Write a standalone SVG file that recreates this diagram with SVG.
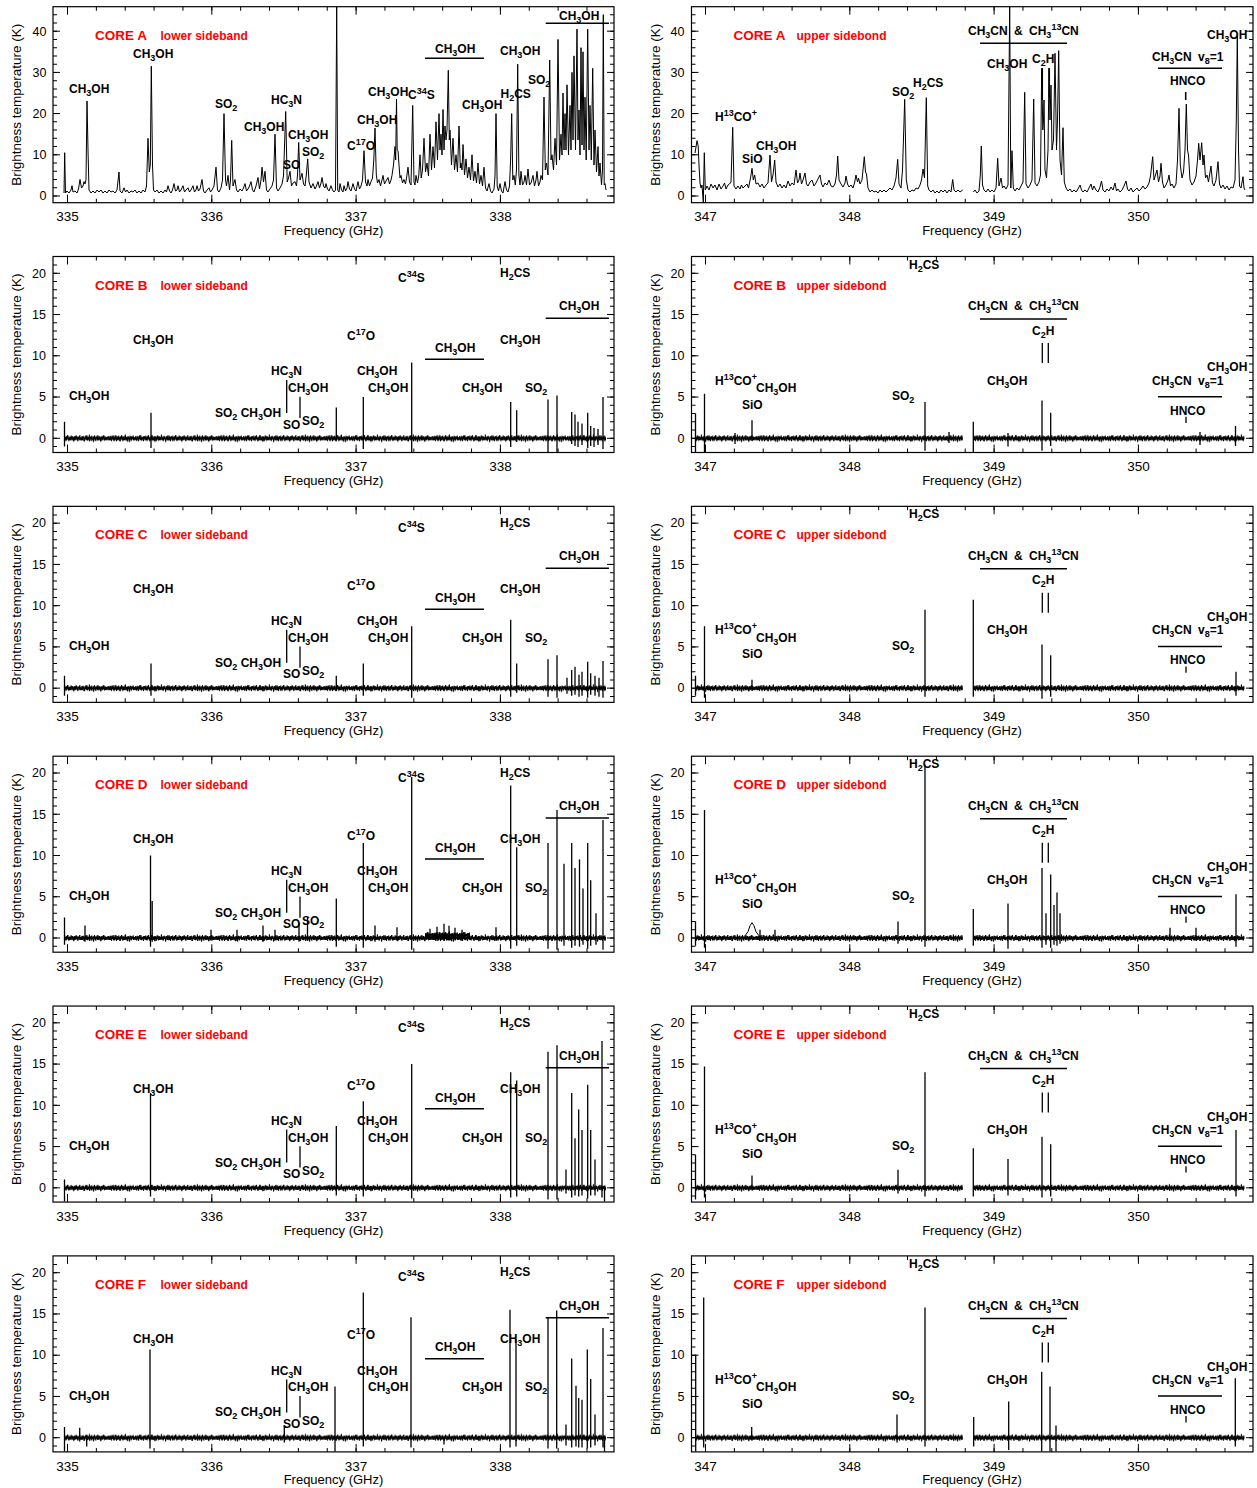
<svg xmlns="http://www.w3.org/2000/svg" width="1257" height="1488" viewBox="0 0 1257 1488">
<style>
text{font-family:"Liberation Sans",Arial,Helvetica,sans-serif;fill:#000}
.tk{font-size:12.5px;text-anchor:end}
.tx{font-size:13.5px;text-anchor:middle}
.ax{font-size:13px;text-anchor:middle}
.yl{font-size:13.5px;text-anchor:middle}
.lb{font-size:12px;font-weight:bold}
.b{font-size:9px}
.core{font-size:13.5px;font-weight:bold;fill:#ff0000}
.sb{font-size:12px;font-weight:bold;fill:#ff0000}
.fr{fill:none;stroke:#000;stroke-width:1.2}
.mn{stroke:#000;stroke-width:4;fill:none}
.mj{stroke:#000;stroke-width:1;fill:none}
.spec{fill:none;stroke:#000;stroke-width:1;stroke-linejoin:round}
.spk{fill:none;stroke:#000;stroke-width:1.3}
.mk{fill:none;stroke:#000;stroke-width:1.5}
.n1{fill:url(#nz)}
.n2{fill:url(#nz2)}
</style>
<defs>
<pattern id="nz" patternUnits="userSpaceOnUse" width="36" height="12">
<path d="M0,6 L0.6,4 L1.2,7.5 L1.8,5 L2.4,8 L3,4.5 L3.6,6.5 L4.2,3.5 L4.8,7 L5.4,5.5 L6,8.5 L6.6,5 L7.2,6 L7.8,3 L8.4,7.5 L9,6 L9.6,8 L10.2,4 L10.8,6.5 L11.4,5 L12,9 L12.6,5.5 L13.2,7 L13.8,3.5 L14.4,6 L15,4.5 L15.6,8 L16.2,5 L16.8,7 L17.4,2.5 L18,6.5 L18.6,5 L19.2,8.5 L19.8,4.5 L20.4,7 L21,5.5 L21.6,9.5 L22.2,6 L22.8,4 L23.4,7.5 L24,5 L24.6,6.5 L25.2,3.5 L25.8,8 L26.4,5.5 L27,7 L27.6,4 L28.2,6 L28.8,8.5 L29.4,5 L30,7.5 L30.6,4.5 L31.2,6.5 L31.8,3 L32.4,7 L33,5.5 L33.6,8 L34.2,5 L34.8,7 L35.4,4.5 L36,6" fill="none" stroke="#000" stroke-width="0.9"/>
</pattern>
<pattern id="nz2" patternUnits="userSpaceOnUse" width="27" height="12">
<path d="M0,6 L0.45,7.5 L0.9,4.5 L1.35,8 L1.8,5.5 L2.25,3.8 L2.7,7 L3.15,6 L3.6,8.8 L4.05,4.2 L4.5,6.8 L4.95,5 L5.4,7.8 L5.85,3.2 L6.3,6.2 L6.75,8.2 L7.2,4.8 L7.65,7.2 L8.1,5.2 L8.55,9 L9,4 L9.45,6.6 L9.9,5.4 L10.35,7.6 L10.8,3.6 L11.25,7 L11.7,5.8 L12.15,8.4 L12.6,4.4 L13.05,6.4 L13.5,3 L13.95,7.4 L14.4,5.6 L14.85,8.6 L15.3,4.6 L15.75,6.9 L16.2,5.1 L16.65,7.9 L17.1,3.4 L17.55,6.5 L18,8.1 L18.45,4.9 L18.9,7.3 L19.35,5.3 L19.8,9.2 L20.25,4.1 L20.7,6.7 L21.15,5.5 L21.6,7.7 L22.05,3.7 L22.5,7.1 L22.95,5.9 L23.4,8.3 L23.85,4.3 L24.3,6.3 L24.75,4.7 L25.2,7.5 L25.65,5.2 L26.1,8 L26.55,5 L27,6" fill="none" stroke="#000" stroke-width="0.9"/>
</pattern>
<g id="nzL"><rect class="n1" x="64" y="0" width="542" height="12"/><rect class="n2" x="64" y="0" width="542" height="12"/></g>
<g id="nzR"><rect class="n1" x="695" y="0" width="267.7" height="12"/><rect class="n2" x="695" y="0" width="267.7" height="12"/><rect class="n1" x="973.3" y="0" width="271" height="12"/><rect class="n2" x="973.3" y="0" width="271" height="12"/></g>
<g id="axLA">
<rect class="fr" x="53" y="6.7" width="561" height="196"/>
<line class="mn" x1="67" y1="200.7" x2="588" y2="200.7" stroke-dasharray="1 27.86"/>
<line class="mn" x1="67" y1="8.7" x2="588" y2="8.7" stroke-dasharray="1 27.86"/>
<line class="mn" x1="55" y1="196.5" x2="55" y2="14" stroke-dasharray="1 7.24"/>
<line class="mn" x1="612" y1="196.5" x2="612" y2="14" stroke-dasharray="1 7.24"/>
<path class="mj" d="M67.5,202.7v-8M211.8,202.7v-8M356.1,202.7v-8M500.4,202.7v-8M67.5,6.7v8M211.8,6.7v8M356.1,6.7v8M500.4,6.7v8M53,196h7M53,154.8h7M53,113.6h7M53,72.4h7M53,31.2h7M614,196h-7M614,154.8h-7M614,113.6h-7M614,72.4h-7M614,31.2h-7"/>
</g>
<g id="axRA">
<rect class="fr" x="691.5" y="6.7" width="561.5" height="196"/>
<line class="mn" x1="705" y1="200.7" x2="1226" y2="200.7" stroke-dasharray="1 27.86"/>
<line class="mn" x1="705" y1="8.7" x2="1226" y2="8.7" stroke-dasharray="1 27.86"/>
<line class="mn" x1="693.5" y1="196.5" x2="693.5" y2="14" stroke-dasharray="1 7.24"/>
<line class="mn" x1="1251" y1="196.5" x2="1251" y2="14" stroke-dasharray="1 7.24"/>
<path class="mj" d="M705.5,202.7v-8M849.8,202.7v-8M994.1,202.7v-8M1138.4,202.7v-8M705.5,6.7v8M849.8,6.7v8M994.1,6.7v8M1138.4,6.7v8M691.5,196h7M691.5,154.8h7M691.5,113.6h7M691.5,72.4h7M691.5,31.2h7M1253,196h-7M1253,154.8h-7M1253,113.6h-7M1253,72.4h-7M1253,31.2h-7"/>
</g>
<g id="axLB">
<rect class="fr" x="53" y="256.5" width="561" height="196"/>
<line class="mn" x1="67" y1="450.5" x2="588" y2="450.5" stroke-dasharray="1 27.86"/>
<line class="mn" x1="67" y1="258.5" x2="588" y2="258.5" stroke-dasharray="1 27.86"/>
<line class="mn" x1="55" y1="447.05" x2="55" y2="264.5" stroke-dasharray="1 7.25"/>
<line class="mn" x1="612" y1="447.05" x2="612" y2="264.5" stroke-dasharray="1 7.25"/>
<path class="mj" d="M67.5,452.5v-8M211.8,452.5v-8M356.1,452.5v-8M500.4,452.5v-8M67.5,256.5v8M211.8,256.5v8M356.1,256.5v8M500.4,256.5v8M53,438.3h7M53,397.05h7M53,355.8h7M53,314.55h7M53,273.3h7M614,438.3h-7M614,397.05h-7M614,355.8h-7M614,314.55h-7M614,273.3h-7"/>
</g>
<g id="axRB">
<rect class="fr" x="691.5" y="256.5" width="561.5" height="196"/>
<line class="mn" x1="705" y1="450.5" x2="1226" y2="450.5" stroke-dasharray="1 27.86"/>
<line class="mn" x1="705" y1="258.5" x2="1226" y2="258.5" stroke-dasharray="1 27.86"/>
<line class="mn" x1="693.5" y1="447.05" x2="693.5" y2="264.5" stroke-dasharray="1 7.25"/>
<line class="mn" x1="1251" y1="447.05" x2="1251" y2="264.5" stroke-dasharray="1 7.25"/>
<path class="mj" d="M705.5,452.5v-8M849.8,452.5v-8M994.1,452.5v-8M1138.4,452.5v-8M705.5,256.5v8M849.8,256.5v8M994.1,256.5v8M1138.4,256.5v8M691.5,438.3h7M691.5,397.05h7M691.5,355.8h7M691.5,314.55h7M691.5,273.3h7M1253,438.3h-7M1253,397.05h-7M1253,355.8h-7M1253,314.55h-7M1253,273.3h-7"/>
</g>
</defs>
<rect width="1257" height="1488" fill="#fff"/>

<!-- ================= CORE A lower ================= -->
<g id="panel-A-lower">
<use href="#axLA"/>
<text class="tk" x="46.5" y="200.3">0</text>
<text class="tk" x="46.5" y="159.1">10</text>
<text class="tk" x="46.5" y="117.9">20</text>
<text class="tk" x="46.5" y="76.7">30</text>
<text class="tk" x="46.5" y="35.5">40</text>
<text class="tx" x="67.5" y="221">335</text>
<text class="tx" x="211.8" y="221">336</text>
<text class="tx" x="356.1" y="221">337</text>
<text class="tx" x="500.4" y="221">338</text>
<text class="ax" x="333.5" y="235">Frequency (GHz)</text>
<text class="yl" transform="translate(21,104.7) rotate(-90)">Brightness temperature (K)</text>
<text class="core" x="95" y="39.5">CORE A</text>
<text class="sb" x="160.5" y="39.5">lower sideband</text>
<path class="spec" d="M64,193 L64.7,152.7 L65.5,193 L67,191 L69,193 L71,190 L72,185.7 L73,192 L75,191 L77,193 L78.5,189 L80,179.5 L81.5,188 L83,186 L84,181.6 L85,184 L86,179.5 L87,101 L88,150 L89,190 L91,193 L93,191 L95,193 L97,190 L99,192 L101,190 L103,193 L105,191 L107,193 L109,190 L111,192 L113,191 L115,193 L117,190 L119,172 L120,191 L122,193 L124,187.8 L125.5,192 L127,190 L129,193 L131,191 L133,192 L135,190 L137,193 L139,191 L141,193 L143,190 L145,192 L146.5,186 L148,138.3 L149.3,172 L150.3,165 L151.3,66.2 L152.5,165 L153.5,190 L155,192 L157,190 L159,193 L161,191 L163,193 L165,190 L166.5,192 L168,185.7 L169.5,191 L171,193 L172.5,190 L174,183.6 L175.5,191 L177,190 L178,185.7 L179.5,192 L181,190 L183,185.7 L184.5,192 L186,190 L188,187.8 L189.5,192 L191,190 L193,185.7 L194.5,192 L196,190 L197,185.7 L198.5,191 L200,189 L202,179.5 L203.5,191 L205,193 L207,190 L209,187.8 L210.5,192 L212,190 L214,186 L216,167.2 L217.5,190 L219,192 L221,188 L222.5,180 L224,113.6 L225.5,180 L226.5,186 L228,175.4 L229.5,190 L230.5,180 L231.7,140.4 L233,186 L235,179.5 L236.5,190 L238,192 L240,189 L242,191 L243.5,188 L245,183.6 L246.5,191 L248,189 L249.5,186 L251,181.6 L252.5,190 L254,192 L256,186 L258,177.5 L259.5,189 L261,180 L262,167.2 L263.5,182 L265,171.3 L266.5,190 L268,192 L270,189 L272,186 L273.5,180 L275,134.2 L276.5,188 L278,191 L280,188 L282,184 L283.5,176 L285.7,111.5 L287.2,182 L288.5,178 L290,171.3 L291.5,186 L293,183 L295,181.6 L296.5,186 L297.5,175 L298.7,142.4 L300,180 L302,173.3 L303.5,184 L305,186 L306.3,175 L307.7,158.9 L309,182 L311,188 L313,183.6 L315,189 L316.5,186 L318,181.6 L319.5,188 L321,183 L322,177.5 L323.5,186 L325,188 L326,183.6 L327.5,189 L329,191 L331,185.7 L332.5,190 L334,192 L335.5,190 L336.7,7 L337.7,190 L339,192 L340,183.6 L341.5,190 L343,192 L344,185.7 L345.5,191 L347,188 L348,181.6 L349.5,189 L351,191 L353,183.6 L354.5,189 L356,191 L358,181.6 L359.5,189 L361,186 L362.5,180 L364,150.7 L365.5,182 L367,186 L368,179.5 L369.5,186 L371,181.6 L372.5,178 L373.8,160 L375,128 L376.3,175 L377.5,183 L379,179.5 L380.5,186 L382,180 L383,175.4 L384.5,184 L386,181 L388,177.5 L389.5,184 L391,180 L392,175.4 L393.5,165 L394.3,155 L395,146.6 L395.7,160 L396.5,99.2 L397.2,150 L398,150.7 L399,165 L400,178 L401,175.4 L402.5,183 L404,179.5 L405.5,184 L406.8,176 L408,167.2 L409.5,182 L411,185 L412.7,105.4 L414,182 L415,185 L416,175.4 L417.5,183 L418.8,175 L420,154.8 L421.2,178 L422.5,170 L424,138.3 L425.5,172 L427,163 L428.5,176 L430,134.2 L431.5,170 L433,146.6 L434.5,168 L436,121.8 L437.5,160 L439,113.6 L440,150 L441,134.2 L442,155 L443,109.5 L444,150 L445,126 L446,140 L447,130 L448.3,70.3 L449.3,140 L450,130.1 L451.5,165 L453,138.3 L454.5,170 L456,154.8 L457.5,172 L459,126 L460.3,168 L461,163 L462,170 L463,144.5 L464.5,175 L466,158.9 L467.5,178 L469,167.2 L470.5,180 L472,154.8 L473.5,181 L475,171.3 L476.5,183 L478,163 L479.5,184 L481,175.4 L482.5,186 L484,167.2 L485.5,188 L487,191 L489,183.6 L490.5,191 L492,193 L494,189 L495,176 L496,113.6 L497.2,186 L498.5,191 L500,183.6 L501.5,191 L503,193 L505,181.6 L506.5,190 L508,192 L509.5,186 L510.6,160 L511.7,113.6 L512.8,180 L514,175.4 L515.3,185 L516.5,170 L517.7,64.2 L518.9,175 L520,185 L521,171.3 L522.5,185 L524,182 L525,175.4 L526.5,185 L528,169 L529.5,185 L531,183 L533,175.4 L534.5,186 L536,180 L537,171.3 L538.5,186 L540,182 L541,175.4 L542.5,180 L544,97.1 L545.3,170 L546.5,163 L548,175 L549.7,60 L551,160 L552,154.8 L553.5,170 L555,138.3 L556.5,165 L558,39.4 L559.5,160 L561,134.2 L562,155 L563,93 L564,150 L565,113.6 L566,150 L567,84.8 L568.5,155 L570,105.4 L571,150 L572,72.4 L573,140 L574,55.9 L575.5,150 L577,29.1 L578,140 L579,110 L580,155 L581,47.7 L582,145 L583,51.8 L584,150 L585,97.1 L586.2,160 L587.7,29.1 L589,150 L590,105.4 L591.3,160 L592.7,68.3 L594,165 L595,130.1 L596.5,172 L598,146.6 L599,176 L600,163 L601.5,185 L602.5,170 L603.3,14.7 L604.2,185 L605,183.6 L606,190"/>
<path class="mk" d="M425,58.3H484M545.7,23.3H609"/>
<text class="lb" x="69" y="92.6">CH<tspan class="b" dy="3">3</tspan><tspan dy="-3">OH</tspan></text>
<text class="lb" x="133" y="57.6">CH<tspan class="b" dy="3">3</tspan><tspan dy="-3">OH</tspan></text>
<text class="lb" x="215" y="108">SO<tspan class="b" dy="3">2</tspan></text>
<text class="lb" x="271" y="104.3">HC<tspan class="b" dy="3">3</tspan><tspan dy="-3">N</tspan></text>
<text class="lb" x="244" y="131">CH<tspan class="b" dy="3">3</tspan><tspan dy="-3">OH</tspan></text>
<text class="lb" x="288" y="138.6">CH<tspan class="b" dy="3">3</tspan><tspan dy="-3">OH</tspan></text>
<text class="lb" x="302" y="156">SO<tspan class="b" dy="3">2</tspan></text>
<text class="lb" x="283" y="168.6">SO</text>
<text class="lb" x="347" y="150.3">C<tspan class="b" dy="-5">17</tspan><tspan dy="5">O</tspan></text>
<text class="lb" x="357" y="123.6">CH<tspan class="b" dy="3">3</tspan><tspan dy="-3">OH</tspan></text>
<text class="lb" x="368" y="96">CH<tspan class="b" dy="3">3</tspan><tspan dy="-3">OH</tspan></text>
<text class="lb" x="408" y="98.6">C<tspan class="b" dy="-5">34</tspan><tspan dy="5">S</tspan></text>
<text class="lb" x="435" y="53">CH<tspan class="b" dy="3">3</tspan><tspan dy="-3">OH</tspan></text>
<text class="lb" x="462" y="108.6">CH<tspan class="b" dy="3">3</tspan><tspan dy="-3">OH</tspan></text>
<text class="lb" x="500" y="55.3">CH<tspan class="b" dy="3">3</tspan><tspan dy="-3">OH</tspan></text>
<text class="lb" x="500.5" y="98">H<tspan class="b" dy="3">2</tspan><tspan dy="-3">CS</tspan></text>
<text class="lb" x="528" y="83.6">SO<tspan class="b" dy="3">2</tspan></text>
<text class="lb" x="559" y="20.3">CH<tspan class="b" dy="3">3</tspan><tspan dy="-3">OH</tspan></text>
</g>

<!-- ================= CORE A upper ================= -->
<g id="panel-A-upper">
<use href="#axRA"/>
<text class="tk" x="684.5" y="200.3">0</text>
<text class="tk" x="684.5" y="159.1">10</text>
<text class="tk" x="684.5" y="117.9">20</text>
<text class="tk" x="684.5" y="76.7">30</text>
<text class="tk" x="684.5" y="35.5">40</text>
<text class="tx" x="705.5" y="221">347</text>
<text class="tx" x="849.8" y="221">348</text>
<text class="tx" x="994.1" y="221">349</text>
<text class="tx" x="1138.4" y="221">350</text>
<text class="ax" x="972" y="235">Frequency (GHz)</text>
<text class="yl" transform="translate(660,104.7) rotate(-90)">Brightness temperature (K)</text>
<text class="core" x="733.5" y="39.5">CORE A</text>
<text class="sb" x="796.5" y="39.5">upper sidebond</text>
<path class="spec" d="M695,153 L696,147 L697,140.7 L698.2,146 L699,165 L700,183 L701,188 L702,185 L703.3,202.5 L704.3,152.7 L705.3,190 L707,186 L709,190 L711,184 L713,188 L715,185 L717,190 L719,184 L721,189 L723,186 L724.5,183 L726,189 L728,185 L729.5,184 L731,182 L732.7,127.3 L734,186 L736,189 L738,186 L740,189 L741.5,185 L743,188 L745,186 L747,184 L748.5,188 L750.5,178 L752,168.3 L753.3,180 L754.7,175 L756,184 L758,183 L760,187 L762,184 L764,188 L766,185 L768,183 L770,155 L771.5,182 L773,175 L774.7,160 L776,182 L778,187 L780,184 L782,188 L784,185 L786,188 L788,181 L790,186 L792,183 L794,185 L796,170 L797.5,183 L799,180 L800,173 L801.5,184 L803,180 L805,173 L806.5,184 L808,186 L810,182 L812,180 L814,186 L816,183 L818,179 L820,175 L821.5,184 L823,187 L825,183 L827,185 L829,180 L831,186 L833,187 L835,184 L836.5,175 L837.7,156 L839,180 L841,184 L843,187 L845,183 L846,176 L847.5,184 L849,187 L851,185 L853,188 L854.5,183 L856,175 L857.5,182 L858.5,178 L860,184 L862,180 L864.3,156.7 L865.5,172 L866.5,174 L868,188 L870,192 L872,190 L874,192 L876,191 L878,193 L880,190 L882,192 L884,190 L886,192 L888,190 L890,188 L892,190 L894,186 L896,178 L897.7,159.3 L899,184 L901,188 L902.5,170 L904.7,99.3 L906.3,180 L908,190 L910,192 L912,190 L914,191 L916,188 L918,189 L920,185 L921.5,180 L923,169 L924.5,178 L926.3,97.7 L927.7,186 L929,190 L931,192 L933,190 L935,193 L937,191 L939,193 L941,190 L943,192 L945,190 L947,193 L949,190 L951,192 L952.7,179.5 L954,190 L956,192 L958,190 L960,192 L962.7,190 M973.3,192 L975,190 L977,193 L979,191 L980.3,175 L981.3,146 L982.5,185 L984,190 L986,192 L988,189 L990,192 L992,190 L994,192 L996,188 L997.7,158.3 L999,186 L1001,178 L1002.5,188 L1004,186 L1006,189 L1008,185 L1009.7,7 L1010.8,188 L1012,150.7 L1013.3,188 L1015,191 L1017,188 L1019,190 L1021,186 L1023,182 L1024.7,92.3 L1026,184 L1028,188 L1030,185 L1032,180 L1033.7,99 L1035,183 L1037,186 L1039,182 L1040.5,175 L1041.7,68.3 L1042.8,130 L1043.5,120 L1044,100 L1045,170 L1046.5,178 L1048,150 L1049,68.3 L1050,120 L1051,85 L1052,150 L1053.5,140 L1055,53.3 L1056.5,150 L1057.5,120 L1058.7,50.7 L1060,160 L1061.5,175 L1063,127.7 L1064.3,182 L1066,188 L1068,191 L1070,189 L1072,192 L1074,190 L1076,192 L1078,189 L1080,185 L1081.5,190 L1083,192 L1085,190 L1087,192 L1089,188 L1091,184 L1092.5,190 L1094,186 L1096,190 L1098,192 L1100,187 L1101.5,181 L1103,190 L1105,192 L1107,189 L1109,191 L1111,187 L1113,190 L1115,183 L1116.5,191 L1118,189 L1120,192 L1122,190 L1124,186 L1126,181 L1127.5,189 L1129,191 L1131,188 L1133,192 L1135,190 L1137,188 L1139,191 L1141,189 L1143,186 L1145,189 L1147,187 L1149,183 L1150.5,176 L1152.7,156.7 L1154,180 L1155.5,175 L1157,170 L1158.5,182 L1160,176 L1161,163.3 L1162.5,182 L1164,188 L1166,185 L1168,180 L1169,175 L1170.5,186 L1172,184 L1174,188 L1176,184 L1177.5,160 L1179,108.3 L1180.3,165 L1182,178 L1183.5,172 L1185,150 L1186.3,104 L1187.5,150 L1188.5,155 L1190,180 L1192,185 L1194,182 L1196,176 L1197.5,160 L1198.7,143.3 L1200,160 L1201.7,142.7 L1203,165 L1204,155 L1205.5,178 L1207,175 L1208.5,182 L1210,172 L1211,166 L1212.5,183 L1214,186 L1216,180 L1218,161.7 L1219.5,184 L1221,188 L1223,185 L1225,189 L1227,186 L1229,190 L1231,187 L1233,188 L1235,180 L1236.3,120 L1237.3,35.7 L1238.5,150 L1239.5,186 L1241,188 L1243,176.7 L1244,188 L1245,190"/>
<path class="mk" d="M980,43.3H1067M1158,68.3H1222M1185.7,92V100"/>
<path class="mk" stroke-width="2" d="M1042.3,68V100M1049.3,68V97"/>
<text class="lb" x="715" y="121.3">H<tspan class="b" dy="-5">13</tspan><tspan dy="5">CO</tspan><tspan class="b" dy="-5">+</tspan></text>
<text class="lb" x="742" y="162.6">SiO</text>
<text class="lb" x="756" y="150.3">CH<tspan class="b" dy="3">3</tspan><tspan dy="-3">OH</tspan></text>
<text class="lb" x="892" y="96">SO<tspan class="b" dy="3">2</tspan></text>
<text class="lb" x="913" y="87">H<tspan class="b" dy="3">2</tspan><tspan dy="-3">CS</tspan></text>
<text class="lb" x="968" y="35.3" style="word-spacing:3px">CH<tspan class="b" dy="3">3</tspan><tspan dy="-3">CN &amp; CH</tspan><tspan class="b" dy="3">3</tspan><tspan class="b" dy="-8">13</tspan><tspan dy="5">CN</tspan></text>
<text class="lb" x="987" y="68">CH<tspan class="b" dy="3">3</tspan><tspan dy="-3">OH</tspan></text>
<text class="lb" x="1032" y="62.6">C<tspan class="b" dy="3">2</tspan><tspan dy="-3">H</tspan></text>
<text class="lb" x="1152" y="61" style="word-spacing:3px">CH<tspan class="b" dy="3">3</tspan><tspan dy="-3">CN v</tspan><tspan class="b" dy="3">8</tspan><tspan dy="-3">=1</tspan></text>
<text class="lb" x="1170" y="85.3">HNCO</text>
<text class="lb" x="1207" y="39.3">CH<tspan class="b" dy="3">3</tspan><tspan dy="-3">OH</tspan></text>
</g>

<!-- ================= CORE B lower ================= -->
<g id="panel-B-lower">
<use href="#axLB"/>
<text class="tk" x="46" y="442.6">0</text>
<text class="tk" x="46" y="401.35">5</text>
<text class="tk" x="46" y="360.1">10</text>
<text class="tk" x="46" y="318.85">15</text>
<text class="tk" x="46" y="277.6">20</text>
<text class="tx" x="67.5" y="471.2">335</text>
<text class="tx" x="211.8" y="471.2">336</text>
<text class="tx" x="356.1" y="471.2">337</text>
<text class="tx" x="500.4" y="471.2">338</text>
<text class="ax" x="333.5" y="485">Frequency (GHz)</text>
<text class="yl" transform="translate(21,354.5) rotate(-90)">Brightness temperature (K)</text>
<text class="core" x="95" y="289.5">CORE B</text>
<text class="sb" x="160.5" y="289.5">lower sideband</text>
<use href="#nzL" transform="translate(0,432.3)"/>
<path class="spk" d="M64.5,446.5V421.8M151,448V412.7M336.3,440V407.4M363.3,449V397M411.7,452V362.4M510.7,447V402M516.7,442V410.3M548,452V399.5M557,452V395.4M571.7,444V411.9M575,446V414.4M578,447V421.8M582,445V423.5M587.7,448V412.7M590.7,446V425.9M594,447V428M598,445V429M603,449V397"/>
<path class="mk" d="M425,359.3H484M545.7,318.3H609"/>
<path class="spk" d="M286.7,380V413M300,396.7V418"/>
<text class="lb" x="69" y="400.3">CH<tspan class="b" dy="3">3</tspan><tspan dy="-3">OH</tspan></text>
<text class="lb" x="133" y="343.6">CH<tspan class="b" dy="3">3</tspan><tspan dy="-3">OH</tspan></text>
<text class="lb" x="271" y="375.3">HC<tspan class="b" dy="3">3</tspan><tspan dy="-3">N</tspan></text>
<text class="lb" x="288" y="392">CH<tspan class="b" dy="3">3</tspan><tspan dy="-3">OH</tspan></text>
<text class="lb" x="215" y="417">SO<tspan class="b" dy="3">2</tspan><tspan dy="-3"> CH</tspan><tspan class="b" dy="3">3</tspan><tspan dy="-3">OH</tspan></text>
<text class="lb" x="283" y="428.6">SO</text>
<text class="lb" x="302" y="425.3">SO<tspan class="b" dy="3">2</tspan></text>
<text class="lb" x="347" y="340">C<tspan class="b" dy="-5">17</tspan><tspan dy="5">O</tspan></text>
<text class="lb" x="357" y="375.3">CH<tspan class="b" dy="3">3</tspan><tspan dy="-3">OH</tspan></text>
<text class="lb" x="368" y="392">CH<tspan class="b" dy="3">3</tspan><tspan dy="-3">OH</tspan></text>
<text class="lb" x="398" y="282">C<tspan class="b" dy="-5">34</tspan><tspan dy="5">S</tspan></text>
<text class="lb" x="500" y="277">H<tspan class="b" dy="3">2</tspan><tspan dy="-3">CS</tspan></text>
<text class="lb" x="559" y="310.3">CH<tspan class="b" dy="3">3</tspan><tspan dy="-3">OH</tspan></text>
<text class="lb" x="435" y="352">CH<tspan class="b" dy="3">3</tspan><tspan dy="-3">OH</tspan></text>
<text class="lb" x="500" y="343.6">CH<tspan class="b" dy="3">3</tspan><tspan dy="-3">OH</tspan></text>
<text class="lb" x="462" y="392">CH<tspan class="b" dy="3">3</tspan><tspan dy="-3">OH</tspan></text>
<text class="lb" x="525" y="392">SO<tspan class="b" dy="3">2</tspan></text>
</g>

<!-- ================= CORE B upper ================= -->
<g id="panel-B-upper">
<use href="#axRB"/>
<text class="tk" x="684.5" y="442.6">0</text>
<text class="tk" x="684.5" y="401.35">5</text>
<text class="tk" x="684.5" y="360.1">10</text>
<text class="tk" x="684.5" y="318.85">15</text>
<text class="tk" x="684.5" y="277.6">20</text>
<text class="tx" x="705.5" y="471.2">347</text>
<text class="tx" x="849.8" y="471.2">348</text>
<text class="tx" x="994.1" y="471.2">349</text>
<text class="tx" x="1138.4" y="471.2">350</text>
<text class="ax" x="972" y="485">Frequency (GHz)</text>
<text class="yl" transform="translate(660,354.5) rotate(-90)">Brightness temperature (K)</text>
<text class="core" x="733.5" y="289.5">CORE B</text>
<text class="sb" x="796.5" y="289.5">upper sidebond</text>
<use href="#nzR" transform="translate(0,432.3)"/>
<path class="spk" d="M695.5,452V413.6M704.5,452V393.8M735,444V433M752,441V420.2M925,450.7V402M949,443V432M973.3,452V421.8M1008,446.5V433M1042,450.7V400.4M1050.7,446V412.7M1200,445V432M1235.5,446V425.9"/>
<path class="mk" d="M980,319H1067M1158,396.7H1222"/>
<path class="spk" d="M1042.3,343V363M1048.3,343V363M1186,416.7V423"/>
<text class="lb" x="909" y="268.6">H<tspan class="b" dy="3">2</tspan><tspan dy="-3">CS</tspan></text>
<text class="lb" x="715" y="384.6">H<tspan class="b" dy="-5">13</tspan><tspan dy="5">CO</tspan><tspan class="b" dy="-5">+</tspan></text>
<text class="lb" x="756" y="392">CH<tspan class="b" dy="3">3</tspan><tspan dy="-3">OH</tspan></text>
<text class="lb" x="742" y="408.6">SiO</text>
<text class="lb" x="892" y="400.3">SO<tspan class="b" dy="3">2</tspan></text>
<text class="lb" x="968" y="310.3" style="word-spacing:3px">CH<tspan class="b" dy="3">3</tspan><tspan dy="-3">CN &amp; CH</tspan><tspan class="b" dy="3">3</tspan><tspan class="b" dy="-8">13</tspan><tspan dy="5">CN</tspan></text>
<text class="lb" x="1032" y="334.6">C<tspan class="b" dy="3">2</tspan><tspan dy="-3">H</tspan></text>
<text class="lb" x="987" y="384.6">CH<tspan class="b" dy="3">3</tspan><tspan dy="-3">OH</tspan></text>
<text class="lb" x="1207" y="371.3">CH<tspan class="b" dy="3">3</tspan><tspan dy="-3">OH</tspan></text>
<text class="lb" x="1152" y="384.6" style="word-spacing:3px">CH<tspan class="b" dy="3">3</tspan><tspan dy="-3">CN v</tspan><tspan class="b" dy="3">8</tspan><tspan dy="-3">=1</tspan></text>
<text class="lb" x="1170" y="414.6">HNCO</text>
</g>

<!-- ================= CORE C lower ================= -->
<g id="panel-C-lower" transform="translate(0,249.85)">
<use href="#axLB"/>
<text class="tk" x="46" y="442.6">0</text>
<text class="tk" x="46" y="401.35">5</text>
<text class="tk" x="46" y="360.1">10</text>
<text class="tk" x="46" y="318.85">15</text>
<text class="tk" x="46" y="277.6">20</text>
<text class="tx" x="67.5" y="471.2">335</text>
<text class="tx" x="211.8" y="471.2">336</text>
<text class="tx" x="356.1" y="471.2">337</text>
<text class="tx" x="500.4" y="471.2">338</text>
<text class="ax" x="333.5" y="485">Frequency (GHz)</text>
<text class="yl" transform="translate(21,354.5) rotate(-90)">Brightness temperature (K)</text>
<text class="core" x="95" y="289.5">CORE C</text>
<text class="sb" x="160.5" y="289.5">lower sideband</text>
<use href="#nzL" transform="translate(0,432.3)"/>
<path class="spk" d="M64.5,446V425.9M151,446V413.6M336.3,441V425.9M363.3,446V413.6M411.7,448V376.4M510.7,447V369.8M516.7,443V413.6M548,447V409.4M557,448V405.3M567,444V428M571.7,446V420.2M575,445V416.9M579,447V425M582,446V421.8M587.7,448V411.9M590.7,445V423.5M595,446V426M599,447V428M603,448V411.1"/>
<path class="mk" d="M425,359.3H484M545.7,318.3H609"/>
<path class="spk" d="M286.7,380V413M300,396.7V418"/>
<text class="lb" x="69" y="400.3">CH<tspan class="b" dy="3">3</tspan><tspan dy="-3">OH</tspan></text>
<text class="lb" x="133" y="343.6">CH<tspan class="b" dy="3">3</tspan><tspan dy="-3">OH</tspan></text>
<text class="lb" x="271" y="375.3">HC<tspan class="b" dy="3">3</tspan><tspan dy="-3">N</tspan></text>
<text class="lb" x="288" y="392">CH<tspan class="b" dy="3">3</tspan><tspan dy="-3">OH</tspan></text>
<text class="lb" x="215" y="417">SO<tspan class="b" dy="3">2</tspan><tspan dy="-3"> CH</tspan><tspan class="b" dy="3">3</tspan><tspan dy="-3">OH</tspan></text>
<text class="lb" x="283" y="428.6">SO</text>
<text class="lb" x="302" y="425.3">SO<tspan class="b" dy="3">2</tspan></text>
<text class="lb" x="347" y="340">C<tspan class="b" dy="-5">17</tspan><tspan dy="5">O</tspan></text>
<text class="lb" x="357" y="375.3">CH<tspan class="b" dy="3">3</tspan><tspan dy="-3">OH</tspan></text>
<text class="lb" x="368" y="392">CH<tspan class="b" dy="3">3</tspan><tspan dy="-3">OH</tspan></text>
<text class="lb" x="398" y="282">C<tspan class="b" dy="-5">34</tspan><tspan dy="5">S</tspan></text>
<text class="lb" x="500" y="277">H<tspan class="b" dy="3">2</tspan><tspan dy="-3">CS</tspan></text>
<text class="lb" x="559" y="310.3">CH<tspan class="b" dy="3">3</tspan><tspan dy="-3">OH</tspan></text>
<text class="lb" x="435" y="352">CH<tspan class="b" dy="3">3</tspan><tspan dy="-3">OH</tspan></text>
<text class="lb" x="500" y="343.6">CH<tspan class="b" dy="3">3</tspan><tspan dy="-3">OH</tspan></text>
<text class="lb" x="462" y="392">CH<tspan class="b" dy="3">3</tspan><tspan dy="-3">OH</tspan></text>
<text class="lb" x="525" y="392">SO<tspan class="b" dy="3">2</tspan></text>
</g>

<!-- ================= CORE C upper ================= -->
<g id="panel-C-upper" transform="translate(0,249.85)">
<use href="#axRB"/>
<text class="tk" x="684.5" y="442.6">0</text>
<text class="tk" x="684.5" y="401.35">5</text>
<text class="tk" x="684.5" y="360.1">10</text>
<text class="tk" x="684.5" y="318.85">15</text>
<text class="tk" x="684.5" y="277.6">20</text>
<text class="tx" x="705.5" y="471.2">347</text>
<text class="tx" x="849.8" y="471.2">348</text>
<text class="tx" x="994.1" y="471.2">349</text>
<text class="tx" x="1138.4" y="471.2">350</text>
<text class="ax" x="972" y="485">Frequency (GHz)</text>
<text class="yl" transform="translate(660,354.5) rotate(-90)">Brightness temperature (K)</text>
<text class="core" x="733.5" y="289.5">CORE C</text>
<text class="sb" x="796.5" y="289.5">upper sidebond</text>
<use href="#nzR" transform="translate(0,432.3)"/>
<path class="spk" d="M695.5,446V425.9M704.5,448V376.4M752,441V430M925,447V359.9M973.3,447V350M1042,449V394.6M1050.7,447V405.3M1236,446V421.8"/>
<path class="mk" d="M980,319H1067M1158,396.7H1222"/>
<path class="spk" d="M1042.3,343V363M1048.3,343V363M1186,416.7V423"/>
<text class="lb" x="909" y="268.6">H<tspan class="b" dy="3">2</tspan><tspan dy="-3">CS</tspan></text>
<text class="lb" x="715" y="384.6">H<tspan class="b" dy="-5">13</tspan><tspan dy="5">CO</tspan><tspan class="b" dy="-5">+</tspan></text>
<text class="lb" x="756" y="392">CH<tspan class="b" dy="3">3</tspan><tspan dy="-3">OH</tspan></text>
<text class="lb" x="742" y="408.6">SiO</text>
<text class="lb" x="892" y="400.3">SO<tspan class="b" dy="3">2</tspan></text>
<text class="lb" x="968" y="310.3" style="word-spacing:3px">CH<tspan class="b" dy="3">3</tspan><tspan dy="-3">CN &amp; CH</tspan><tspan class="b" dy="3">3</tspan><tspan class="b" dy="-8">13</tspan><tspan dy="5">CN</tspan></text>
<text class="lb" x="1032" y="334.6">C<tspan class="b" dy="3">2</tspan><tspan dy="-3">H</tspan></text>
<text class="lb" x="987" y="384.6">CH<tspan class="b" dy="3">3</tspan><tspan dy="-3">OH</tspan></text>
<text class="lb" x="1207" y="371.3">CH<tspan class="b" dy="3">3</tspan><tspan dy="-3">OH</tspan></text>
<text class="lb" x="1152" y="384.6" style="word-spacing:3px">CH<tspan class="b" dy="3">3</tspan><tspan dy="-3">CN v</tspan><tspan class="b" dy="3">8</tspan><tspan dy="-3">=1</tspan></text>
<text class="lb" x="1170" y="414.6">HNCO</text>
</g>

<!-- ================= CORE D lower ================= -->
<g id="panel-D-lower" transform="translate(0,499.7)">
<use href="#axLB"/>
<text class="tk" x="46" y="442.6">0</text>
<text class="tk" x="46" y="401.35">5</text>
<text class="tk" x="46" y="360.1">10</text>
<text class="tk" x="46" y="318.85">15</text>
<text class="tk" x="46" y="277.6">20</text>
<text class="tx" x="67.5" y="471.2">335</text>
<text class="tx" x="211.8" y="471.2">336</text>
<text class="tx" x="356.1" y="471.2">337</text>
<text class="tx" x="500.4" y="471.2">338</text>
<text class="ax" x="333.5" y="485">Frequency (GHz)</text>
<text class="yl" transform="translate(21,354.5) rotate(-90)">Brightness temperature (K)</text>
<text class="core" x="95" y="289.5">CORE D</text>
<text class="sb" x="160.5" y="289.5">lower sideband</text>
<use href="#nzL" transform="translate(0,432.3)"/>
<use href="#nzL" transform="translate(0,429.3)" clip-path="url(#cD)"/>
<path class="spk" d="M64.5,445V417.7M85,442V425.9M150.5,447V355.8M152.2,442V401.2M211,441V430M237,441V430M263,442V425.9M275,441V430M299,442V423.5M307.5,441V417.7M336.3,447V398.7M363.3,448V343.4M375,442V425.9M397,441V427.5M411.7,450V277.4M430,440V429M437,441V427M444,440V424M449,441V426M455,440V428M462,441V430M496,441V427.5M510.7,449V285.7M516.7,446V347.55M548,449V343.4M557,450V310.4M564,446V364M571.7,448V343.4M575,446V368.2M579.5,447V359.9M583,445V388.8M587.7,449V343.4M590.7,446V380.55M596,445V413.55M603,450V320.3"/>
<path class="mk" d="M425,359.3H484M545.7,318.3H609"/>
<path class="spk" d="M286.7,380V413M300,396.7V418"/>
<text class="lb" x="69" y="400.3">CH<tspan class="b" dy="3">3</tspan><tspan dy="-3">OH</tspan></text>
<text class="lb" x="133" y="343.6">CH<tspan class="b" dy="3">3</tspan><tspan dy="-3">OH</tspan></text>
<text class="lb" x="271" y="375.3">HC<tspan class="b" dy="3">3</tspan><tspan dy="-3">N</tspan></text>
<text class="lb" x="288" y="392">CH<tspan class="b" dy="3">3</tspan><tspan dy="-3">OH</tspan></text>
<text class="lb" x="215" y="417">SO<tspan class="b" dy="3">2</tspan><tspan dy="-3"> CH</tspan><tspan class="b" dy="3">3</tspan><tspan dy="-3">OH</tspan></text>
<text class="lb" x="283" y="428.6">SO</text>
<text class="lb" x="302" y="425.3">SO<tspan class="b" dy="3">2</tspan></text>
<text class="lb" x="347" y="340">C<tspan class="b" dy="-5">17</tspan><tspan dy="5">O</tspan></text>
<text class="lb" x="357" y="375.3">CH<tspan class="b" dy="3">3</tspan><tspan dy="-3">OH</tspan></text>
<text class="lb" x="368" y="392">CH<tspan class="b" dy="3">3</tspan><tspan dy="-3">OH</tspan></text>
<text class="lb" x="398" y="282">C<tspan class="b" dy="-5">34</tspan><tspan dy="5">S</tspan></text>
<text class="lb" x="500" y="277">H<tspan class="b" dy="3">2</tspan><tspan dy="-3">CS</tspan></text>
<text class="lb" x="559" y="310.3">CH<tspan class="b" dy="3">3</tspan><tspan dy="-3">OH</tspan></text>
<text class="lb" x="435" y="352">CH<tspan class="b" dy="3">3</tspan><tspan dy="-3">OH</tspan></text>
<text class="lb" x="500" y="343.6">CH<tspan class="b" dy="3">3</tspan><tspan dy="-3">OH</tspan></text>
<text class="lb" x="462" y="392">CH<tspan class="b" dy="3">3</tspan><tspan dy="-3">OH</tspan></text>
<text class="lb" x="525" y="392">SO<tspan class="b" dy="3">2</tspan></text>
</g>
<clipPath id="cD"><rect x="425" y="0" width="45" height="1488"/></clipPath>

<!-- ================= CORE D upper ================= -->
<g id="panel-D-upper" transform="translate(0,499.7)">
<use href="#axRB"/>
<text class="tk" x="684.5" y="442.6">0</text>
<text class="tk" x="684.5" y="401.35">5</text>
<text class="tk" x="684.5" y="360.1">10</text>
<text class="tk" x="684.5" y="318.85">15</text>
<text class="tk" x="684.5" y="277.6">20</text>
<text class="tx" x="705.5" y="471.2">347</text>
<text class="tx" x="849.8" y="471.2">348</text>
<text class="tx" x="994.1" y="471.2">349</text>
<text class="tx" x="1138.4" y="471.2">350</text>
<text class="ax" x="972" y="485">Frequency (GHz)</text>
<text class="yl" transform="translate(660,354.5) rotate(-90)">Brightness temperature (K)</text>
<text class="core" x="733.5" y="289.5">CORE D</text>
<text class="sb" x="796.5" y="289.5">upper sidebond</text>
<use href="#nzR" transform="translate(0,432.3)"/>
<path class="spec" d="M745,436 L748,432 L750,426 L752,423 L754,426 L756,432 L759,436"/>
<path class="spk" d="M695.5,446V421.8M704.5,448V310.4M760,441V430M775,441V430M898,444V421.8M925,447V265M973.3,446V409.4M1008,449V403.7M1042,448V368.2M1046,445V413.6M1050.7,448V374.8M1054,445V405.3M1057,446V392.9M1060,444V413.6M1170,441V428M1196,441V428M1236,447V394.6"/>
<path class="mk" d="M980,319H1067M1158,396.7H1222"/>
<path class="spk" d="M1042.3,343V363M1048.3,343V363M1186,416.7V423"/>
<text class="lb" x="909" y="268.6">H<tspan class="b" dy="3">2</tspan><tspan dy="-3">CS</tspan></text>
<text class="lb" x="715" y="384.6">H<tspan class="b" dy="-5">13</tspan><tspan dy="5">CO</tspan><tspan class="b" dy="-5">+</tspan></text>
<text class="lb" x="756" y="392">CH<tspan class="b" dy="3">3</tspan><tspan dy="-3">OH</tspan></text>
<text class="lb" x="742" y="408.6">SiO</text>
<text class="lb" x="892" y="400.3">SO<tspan class="b" dy="3">2</tspan></text>
<text class="lb" x="968" y="310.3" style="word-spacing:3px">CH<tspan class="b" dy="3">3</tspan><tspan dy="-3">CN &amp; CH</tspan><tspan class="b" dy="3">3</tspan><tspan class="b" dy="-8">13</tspan><tspan dy="5">CN</tspan></text>
<text class="lb" x="1032" y="334.6">C<tspan class="b" dy="3">2</tspan><tspan dy="-3">H</tspan></text>
<text class="lb" x="987" y="384.6">CH<tspan class="b" dy="3">3</tspan><tspan dy="-3">OH</tspan></text>
<text class="lb" x="1207" y="371.3">CH<tspan class="b" dy="3">3</tspan><tspan dy="-3">OH</tspan></text>
<text class="lb" x="1152" y="384.6" style="word-spacing:3px">CH<tspan class="b" dy="3">3</tspan><tspan dy="-3">CN v</tspan><tspan class="b" dy="3">8</tspan><tspan dy="-3">=1</tspan></text>
<text class="lb" x="1170" y="414.6">HNCO</text>
</g>

<!-- ================= CORE E lower ================= -->
<g id="panel-E-lower" transform="translate(0,749.55)">
<use href="#axLB"/>
<text class="tk" x="46" y="442.6">0</text>
<text class="tk" x="46" y="401.35">5</text>
<text class="tk" x="46" y="360.1">10</text>
<text class="tk" x="46" y="318.85">15</text>
<text class="tk" x="46" y="277.6">20</text>
<text class="tx" x="67.5" y="471.2">335</text>
<text class="tx" x="211.8" y="471.2">336</text>
<text class="tx" x="356.1" y="471.2">337</text>
<text class="tx" x="500.4" y="471.2">338</text>
<text class="ax" x="333.5" y="485">Frequency (GHz)</text>
<text class="yl" transform="translate(21,354.5) rotate(-90)">Brightness temperature (K)</text>
<text class="core" x="95" y="289.5">CORE E</text>
<text class="sb" x="160.5" y="289.5">lower sideband</text>
<use href="#nzL" transform="translate(0,432.3)"/>
<path class="spk" d="M64.5,452V430M150.5,447V343.4M336.3,446V376.4M363.3,447V351.7M411.7,449V314.55M510.7,448V322.8M516.7,447V331M548,450V302.2M557,450V295.6M566,444V420M571.7,448V343.4M575,446V388.8M578.7,447V359.9M582,446V380.55M587.7,449V335.2M590.7,446V380.55M595,446V410M602,448V291.4M604.5,452V440"/>
<path class="mk" d="M425,359.3H484M545.7,318.3H609"/>
<path class="spk" d="M286.7,380V413M300,396.7V418"/>
<text class="lb" x="69" y="400.3">CH<tspan class="b" dy="3">3</tspan><tspan dy="-3">OH</tspan></text>
<text class="lb" x="133" y="343.6">CH<tspan class="b" dy="3">3</tspan><tspan dy="-3">OH</tspan></text>
<text class="lb" x="271" y="375.3">HC<tspan class="b" dy="3">3</tspan><tspan dy="-3">N</tspan></text>
<text class="lb" x="288" y="392">CH<tspan class="b" dy="3">3</tspan><tspan dy="-3">OH</tspan></text>
<text class="lb" x="215" y="417">SO<tspan class="b" dy="3">2</tspan><tspan dy="-3"> CH</tspan><tspan class="b" dy="3">3</tspan><tspan dy="-3">OH</tspan></text>
<text class="lb" x="283" y="428.6">SO</text>
<text class="lb" x="302" y="425.3">SO<tspan class="b" dy="3">2</tspan></text>
<text class="lb" x="347" y="340">C<tspan class="b" dy="-5">17</tspan><tspan dy="5">O</tspan></text>
<text class="lb" x="357" y="375.3">CH<tspan class="b" dy="3">3</tspan><tspan dy="-3">OH</tspan></text>
<text class="lb" x="368" y="392">CH<tspan class="b" dy="3">3</tspan><tspan dy="-3">OH</tspan></text>
<text class="lb" x="398" y="282">C<tspan class="b" dy="-5">34</tspan><tspan dy="5">S</tspan></text>
<text class="lb" x="500" y="277">H<tspan class="b" dy="3">2</tspan><tspan dy="-3">CS</tspan></text>
<text class="lb" x="559" y="310.3">CH<tspan class="b" dy="3">3</tspan><tspan dy="-3">OH</tspan></text>
<text class="lb" x="435" y="352">CH<tspan class="b" dy="3">3</tspan><tspan dy="-3">OH</tspan></text>
<text class="lb" x="500" y="343.6">CH<tspan class="b" dy="3">3</tspan><tspan dy="-3">OH</tspan></text>
<text class="lb" x="462" y="392">CH<tspan class="b" dy="3">3</tspan><tspan dy="-3">OH</tspan></text>
<text class="lb" x="525" y="392">SO<tspan class="b" dy="3">2</tspan></text>
</g>

<!-- ================= CORE E upper ================= -->
<g id="panel-E-upper" transform="translate(0,749.55)">
<use href="#axRB"/>
<text class="tk" x="684.5" y="442.6">0</text>
<text class="tk" x="684.5" y="401.35">5</text>
<text class="tk" x="684.5" y="360.1">10</text>
<text class="tk" x="684.5" y="318.85">15</text>
<text class="tk" x="684.5" y="277.6">20</text>
<text class="tx" x="705.5" y="471.2">347</text>
<text class="tx" x="849.8" y="471.2">348</text>
<text class="tx" x="994.1" y="471.2">349</text>
<text class="tx" x="1138.4" y="471.2">350</text>
<text class="ax" x="972" y="485">Frequency (GHz)</text>
<text class="yl" transform="translate(660,354.5) rotate(-90)">Brightness temperature (K)</text>
<text class="core" x="733.5" y="289.5">CORE E</text>
<text class="sb" x="796.5" y="289.5">upper sidebond</text>
<use href="#nzR" transform="translate(0,432.3)"/>
<path class="spk" d="M695.5,450V405.3M704.5,448V317M752,441V425.9M898,444V420.2M925,447V322.8M973.3,447V398.7M1008,446V409.4M1042,448V387.2M1050.7,447V394.6M1236,447V380.55"/>
<path class="mk" d="M980,319H1067M1158,396.7H1222"/>
<path class="spk" d="M1042.3,343V363M1048.3,343V363M1186,416.7V423"/>
<text class="lb" x="909" y="268.6">H<tspan class="b" dy="3">2</tspan><tspan dy="-3">CS</tspan></text>
<text class="lb" x="715" y="384.6">H<tspan class="b" dy="-5">13</tspan><tspan dy="5">CO</tspan><tspan class="b" dy="-5">+</tspan></text>
<text class="lb" x="756" y="392">CH<tspan class="b" dy="3">3</tspan><tspan dy="-3">OH</tspan></text>
<text class="lb" x="742" y="408.6">SiO</text>
<text class="lb" x="892" y="400.3">SO<tspan class="b" dy="3">2</tspan></text>
<text class="lb" x="968" y="310.3" style="word-spacing:3px">CH<tspan class="b" dy="3">3</tspan><tspan dy="-3">CN &amp; CH</tspan><tspan class="b" dy="3">3</tspan><tspan class="b" dy="-8">13</tspan><tspan dy="5">CN</tspan></text>
<text class="lb" x="1032" y="334.6">C<tspan class="b" dy="3">2</tspan><tspan dy="-3">H</tspan></text>
<text class="lb" x="987" y="384.6">CH<tspan class="b" dy="3">3</tspan><tspan dy="-3">OH</tspan></text>
<text class="lb" x="1207" y="371.3">CH<tspan class="b" dy="3">3</tspan><tspan dy="-3">OH</tspan></text>
<text class="lb" x="1152" y="384.6" style="word-spacing:3px">CH<tspan class="b" dy="3">3</tspan><tspan dy="-3">CN v</tspan><tspan class="b" dy="3">8</tspan><tspan dy="-3">=1</tspan></text>
<text class="lb" x="1170" y="414.6">HNCO</text>
</g>

<!-- ================= CORE F lower ================= -->
<g id="panel-F-lower" transform="translate(0,999.4)">
<use href="#axLB"/>
<text class="tk" x="46" y="442.6">0</text>
<text class="tk" x="46" y="401.35">5</text>
<text class="tk" x="46" y="360.1">10</text>
<text class="tk" x="46" y="318.85">15</text>
<text class="tk" x="46" y="277.6">20</text>
<text class="tx" x="67.5" y="471.2">335</text>
<text class="tx" x="211.8" y="471.2">336</text>
<text class="tx" x="356.1" y="471.2">337</text>
<text class="tx" x="500.4" y="471.2">338</text>
<text class="ax" x="333.5" y="485">Frequency (GHz)</text>
<text class="yl" transform="translate(21,354.5) rotate(-90)">Brightness temperature (K)</text>
<text class="core" x="95" y="289.5">CORE F</text>
<text class="sb" x="160.5" y="289.5">lower sideband</text>
<use href="#nzL" transform="translate(0,432.3)"/>
<path class="spk" d="M64.5,452V427.6M79.7,442V428.4M86.7,447V436M150,449V350M284.3,443V425.9M335,452V387.2M363.3,447V293.1M411,448V317.8M444,445V438M510,448V310.4M516,447V340.1M548,449V317.8M556.7,449V311.2M566,446V425M571.7,448V359.1M576,447V386.3M578.7,448V398.7M582,448V400.3M587.3,449V350M590.7,448V379.7M595,446V415M603,448V328.6M604.5,452V440"/>
<path class="mk" d="M425,359.3H484M545.7,318.3H609"/>
<path class="spk" d="M286.7,380V413M300,396.7V418"/>
<text class="lb" x="69" y="400.3">CH<tspan class="b" dy="3">3</tspan><tspan dy="-3">OH</tspan></text>
<text class="lb" x="133" y="343.6">CH<tspan class="b" dy="3">3</tspan><tspan dy="-3">OH</tspan></text>
<text class="lb" x="271" y="375.3">HC<tspan class="b" dy="3">3</tspan><tspan dy="-3">N</tspan></text>
<text class="lb" x="288" y="392">CH<tspan class="b" dy="3">3</tspan><tspan dy="-3">OH</tspan></text>
<text class="lb" x="215" y="417">SO<tspan class="b" dy="3">2</tspan><tspan dy="-3"> CH</tspan><tspan class="b" dy="3">3</tspan><tspan dy="-3">OH</tspan></text>
<text class="lb" x="283" y="428.6">SO</text>
<text class="lb" x="302" y="425.3">SO<tspan class="b" dy="3">2</tspan></text>
<text class="lb" x="347" y="340">C<tspan class="b" dy="-5">17</tspan><tspan dy="5">O</tspan></text>
<text class="lb" x="357" y="375.3">CH<tspan class="b" dy="3">3</tspan><tspan dy="-3">OH</tspan></text>
<text class="lb" x="368" y="392">CH<tspan class="b" dy="3">3</tspan><tspan dy="-3">OH</tspan></text>
<text class="lb" x="398" y="282">C<tspan class="b" dy="-5">34</tspan><tspan dy="5">S</tspan></text>
<text class="lb" x="500" y="277">H<tspan class="b" dy="3">2</tspan><tspan dy="-3">CS</tspan></text>
<text class="lb" x="559" y="310.3">CH<tspan class="b" dy="3">3</tspan><tspan dy="-3">OH</tspan></text>
<text class="lb" x="435" y="352">CH<tspan class="b" dy="3">3</tspan><tspan dy="-3">OH</tspan></text>
<text class="lb" x="500" y="343.6">CH<tspan class="b" dy="3">3</tspan><tspan dy="-3">OH</tspan></text>
<text class="lb" x="462" y="392">CH<tspan class="b" dy="3">3</tspan><tspan dy="-3">OH</tspan></text>
<text class="lb" x="525" y="392">SO<tspan class="b" dy="3">2</tspan></text>
</g>

<!-- ================= CORE F upper ================= -->
<g id="panel-F-upper" transform="translate(0,999.4)">
<use href="#axRB"/>
<text class="tk" x="684.5" y="442.6">0</text>
<text class="tk" x="684.5" y="401.35">5</text>
<text class="tk" x="684.5" y="360.1">10</text>
<text class="tk" x="684.5" y="318.85">15</text>
<text class="tk" x="684.5" y="277.6">20</text>
<text class="tx" x="705.5" y="471.2">347</text>
<text class="tx" x="849.8" y="471.2">348</text>
<text class="tx" x="994.1" y="471.2">349</text>
<text class="tx" x="1138.4" y="471.2">350</text>
<text class="ax" x="972" y="485">Frequency (GHz)</text>
<text class="yl" transform="translate(660,354.5) rotate(-90)">Brightness temperature (K)</text>
<text class="core" x="733.5" y="289.5">CORE F</text>
<text class="sb" x="796.5" y="289.5">upper sidebond</text>
<use href="#nzR" transform="translate(0,432.3)"/>
<path class="spk" d="M695.7,452V355M703.7,448V298M751.7,441V427.6M897,443V415.2M925,447V308M973.7,447V417.7M1008.7,450.7V402M1041.7,452V372.3M1050,452V387.2M1056,452V426M1235.3,447V378.9"/>
<path class="mk" d="M980,319H1067M1158,396.7H1222"/>
<path class="spk" d="M1042.3,343V363M1048.3,343V363M1186,416.7V423"/>
<text class="lb" x="909" y="268.6">H<tspan class="b" dy="3">2</tspan><tspan dy="-3">CS</tspan></text>
<text class="lb" x="715" y="384.6">H<tspan class="b" dy="-5">13</tspan><tspan dy="5">CO</tspan><tspan class="b" dy="-5">+</tspan></text>
<text class="lb" x="756" y="392">CH<tspan class="b" dy="3">3</tspan><tspan dy="-3">OH</tspan></text>
<text class="lb" x="742" y="408.6">SiO</text>
<text class="lb" x="892" y="400.3">SO<tspan class="b" dy="3">2</tspan></text>
<text class="lb" x="968" y="310.3" style="word-spacing:3px">CH<tspan class="b" dy="3">3</tspan><tspan dy="-3">CN &amp; CH</tspan><tspan class="b" dy="3">3</tspan><tspan class="b" dy="-8">13</tspan><tspan dy="5">CN</tspan></text>
<text class="lb" x="1032" y="334.6">C<tspan class="b" dy="3">2</tspan><tspan dy="-3">H</tspan></text>
<text class="lb" x="987" y="384.6">CH<tspan class="b" dy="3">3</tspan><tspan dy="-3">OH</tspan></text>
<text class="lb" x="1207" y="371.3">CH<tspan class="b" dy="3">3</tspan><tspan dy="-3">OH</tspan></text>
<text class="lb" x="1152" y="384.6" style="word-spacing:3px">CH<tspan class="b" dy="3">3</tspan><tspan dy="-3">CN v</tspan><tspan class="b" dy="3">8</tspan><tspan dy="-3">=1</tspan></text>
<text class="lb" x="1170" y="414.6">HNCO</text>
</g>
</svg>
